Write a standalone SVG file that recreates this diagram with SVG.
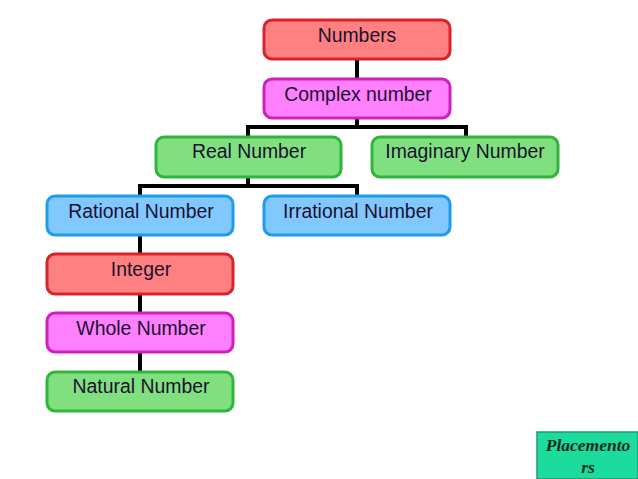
<svg xmlns="http://www.w3.org/2000/svg" width="638" height="479" viewBox="0 0 638 479">
<style>
.n{stroke-width:3}
.r{fill:#ff8080;stroke:#d9222a}
.m{fill:#ff80ff;stroke:#d01fc0}
.g{fill:#80e080;stroke:#2fb53c}
.b{fill:#80c8ff;stroke:#1f9ce8}
text{font-family:"Liberation Sans",Arial,sans-serif;font-size:19.4px;text-anchor:middle;fill:#1a1030}
#connectors path{fill:none;stroke:#000;stroke-width:4}
.p{font-family:"Liberation Serif",serif;font-size:17.5px;font-style:italic;font-weight:bold;fill:#0a2a20}
</style>
<rect width="638" height="479" fill="#fff"/>
<g id="connectors">
<path d="M357 59V79"/>
<path d="M357 118V127M248 137V127H466V137"/>
<path d="M248 177V186M140 196V186H357V196"/>
<path d="M140 235V254"/>
<path d="M140 294V313"/>
<path d="M140 352V372"/>
</g>
<g id="numbers"><rect class="n r" x="264" y="20" width="186" height="39" rx="8"/><text x="357" y="42">Numbers</text></g>
<g id="complex"><rect class="n m" x="264" y="79" width="186" height="39" rx="8"/><text x="358" y="101">Complex number</text></g>
<g id="real"><rect class="n g" x="156" y="137" width="185" height="40" rx="8"/><text x="249" y="158">Real Number</text></g>
<g id="imaginary"><rect class="n g" x="372" y="137" width="186" height="40" rx="8"/><text x="465" y="158">Imaginary Number</text></g>
<g id="rational"><rect class="n b" x="47" y="196" width="186" height="39" rx="8"/><text x="141" y="218">Rational Number</text></g>
<g id="irrational"><rect class="n b" x="264" y="196" width="186" height="39" rx="8"/><text x="358" y="218">Irrational Number</text></g>
<g id="integer"><rect class="n r" x="47" y="254" width="186" height="40" rx="8"/><text x="141" y="276">Integer</text></g>
<g id="whole"><rect class="n m" x="47" y="313" width="186" height="39" rx="8"/><text x="141" y="335">Whole Number</text></g>
<g id="natural"><rect class="n g" x="47" y="372" width="186" height="39" rx="8"/><text x="141" y="393">Natural Number</text></g>
<g id="placements"><rect x="537" y="432" width="101" height="47" fill="#1bdc9c" stroke="#1a9a7a" stroke-width="1.5"/>
<text class="p" x="588" y="451">Placemento</text>
<text class="p" x="588" y="473">rs</text></g>
</svg>
